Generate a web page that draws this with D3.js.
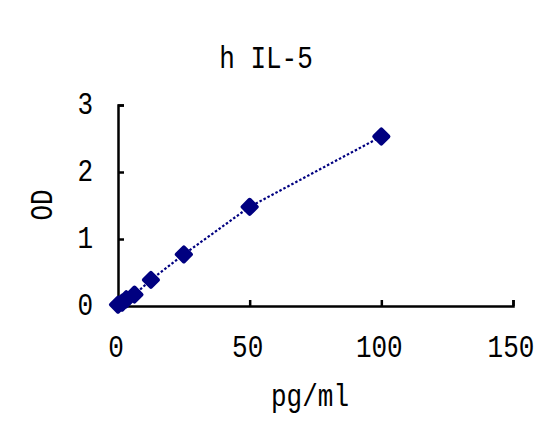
<!DOCTYPE html>
<html><head><meta charset="utf-8">
<script src="https://cdn.jsdelivr.net/npm/d3@7"></script>
<style>body{margin:0;background:#fff}svg{display:block}text{font-family:"Liberation Mono","DejaVu Sans Mono",monospace;fill:#000}</style>
</head><body><svg id="c" width="558" height="432"></svg>
<script>
const concentrations = [0, 1.56, 3.125, 6.25, 12.5, 25, 50, 100];
const odValues = [0.02, 0.05, 0.1, 0.17, 0.39, 0.77, 1.48, 2.53];
const xTicks = [0, 50, 100, 150];
const yTicks = [0, 1, 2, 3];
const title = "h IL-5", xLabel = "pg/ml", yLabel = "OD";

const svg = d3.select("#c");
const x = d3.scaleLinear().domain([0,150]).range([118,513]);
const y = d3.scaleLinear().domain([0,3]).range([306,105]);
const fs = 26, sy = 1.2;

function txt(g, s, px, py, anchor, rot){
  const t = g.append("g").attr("transform",`translate(${px},${py})` + (rot?` rotate(${rot})`:"") + ` scale(1,${sy})`);
  t.append("text").attr("text-anchor",anchor).attr("font-size",fs).text(s);
}

// axes
const xa = svg.append("g").attr("transform","translate(0,306)")
  .call(d3.axisBottom(x).tickValues(xTicks).tickSize(-6).tickFormat(""));
const ya = svg.append("g").attr("transform","translate(118,0)")
  .call(d3.axisLeft(y).tickValues(yTicks).tickSize(-6).tickFormat(""));
[xa,ya].forEach(a=>{a.selectAll("path").attr("stroke","#000").attr("stroke-width",2.5);
  a.selectAll("line").attr("stroke","#000").attr("stroke-width",2.5);});

xTicks.forEach(v=>txt(svg, String(v), x(v)-2, 357, "middle"));
yTicks.forEach(v=>txt(svg, String(v), 93, y(v)+9, "end"));
txt(svg, title, 266, 68, "middle");
txt(svg, xLabel, 310, 406, "middle");
txt(svg, yLabel, 52, 205, "middle", -90);

const pts = concentrations.map((c,i)=>[c, odValues[i]]);
svg.append("path").datum(pts)
  .attr("d", d3.line().x(d=>x(d[0])).y(d=>y(d[1])))
  .attr("fill","none").attr("stroke","#000080").attr("stroke-width",2.2).attr("stroke-dasharray","2.5,2");
svg.selectAll(".m").data(pts).join("path")
  .attr("transform", d=>`translate(${x(d[0])},${y(d[1])}) rotate(45)`)
  .attr("d", d3.symbol(d3.symbolSquare, 100))
  .attr("fill","#000080").attr("stroke","#000080").attr("stroke-width",4).attr("stroke-linejoin","round");
</script></body></html>
